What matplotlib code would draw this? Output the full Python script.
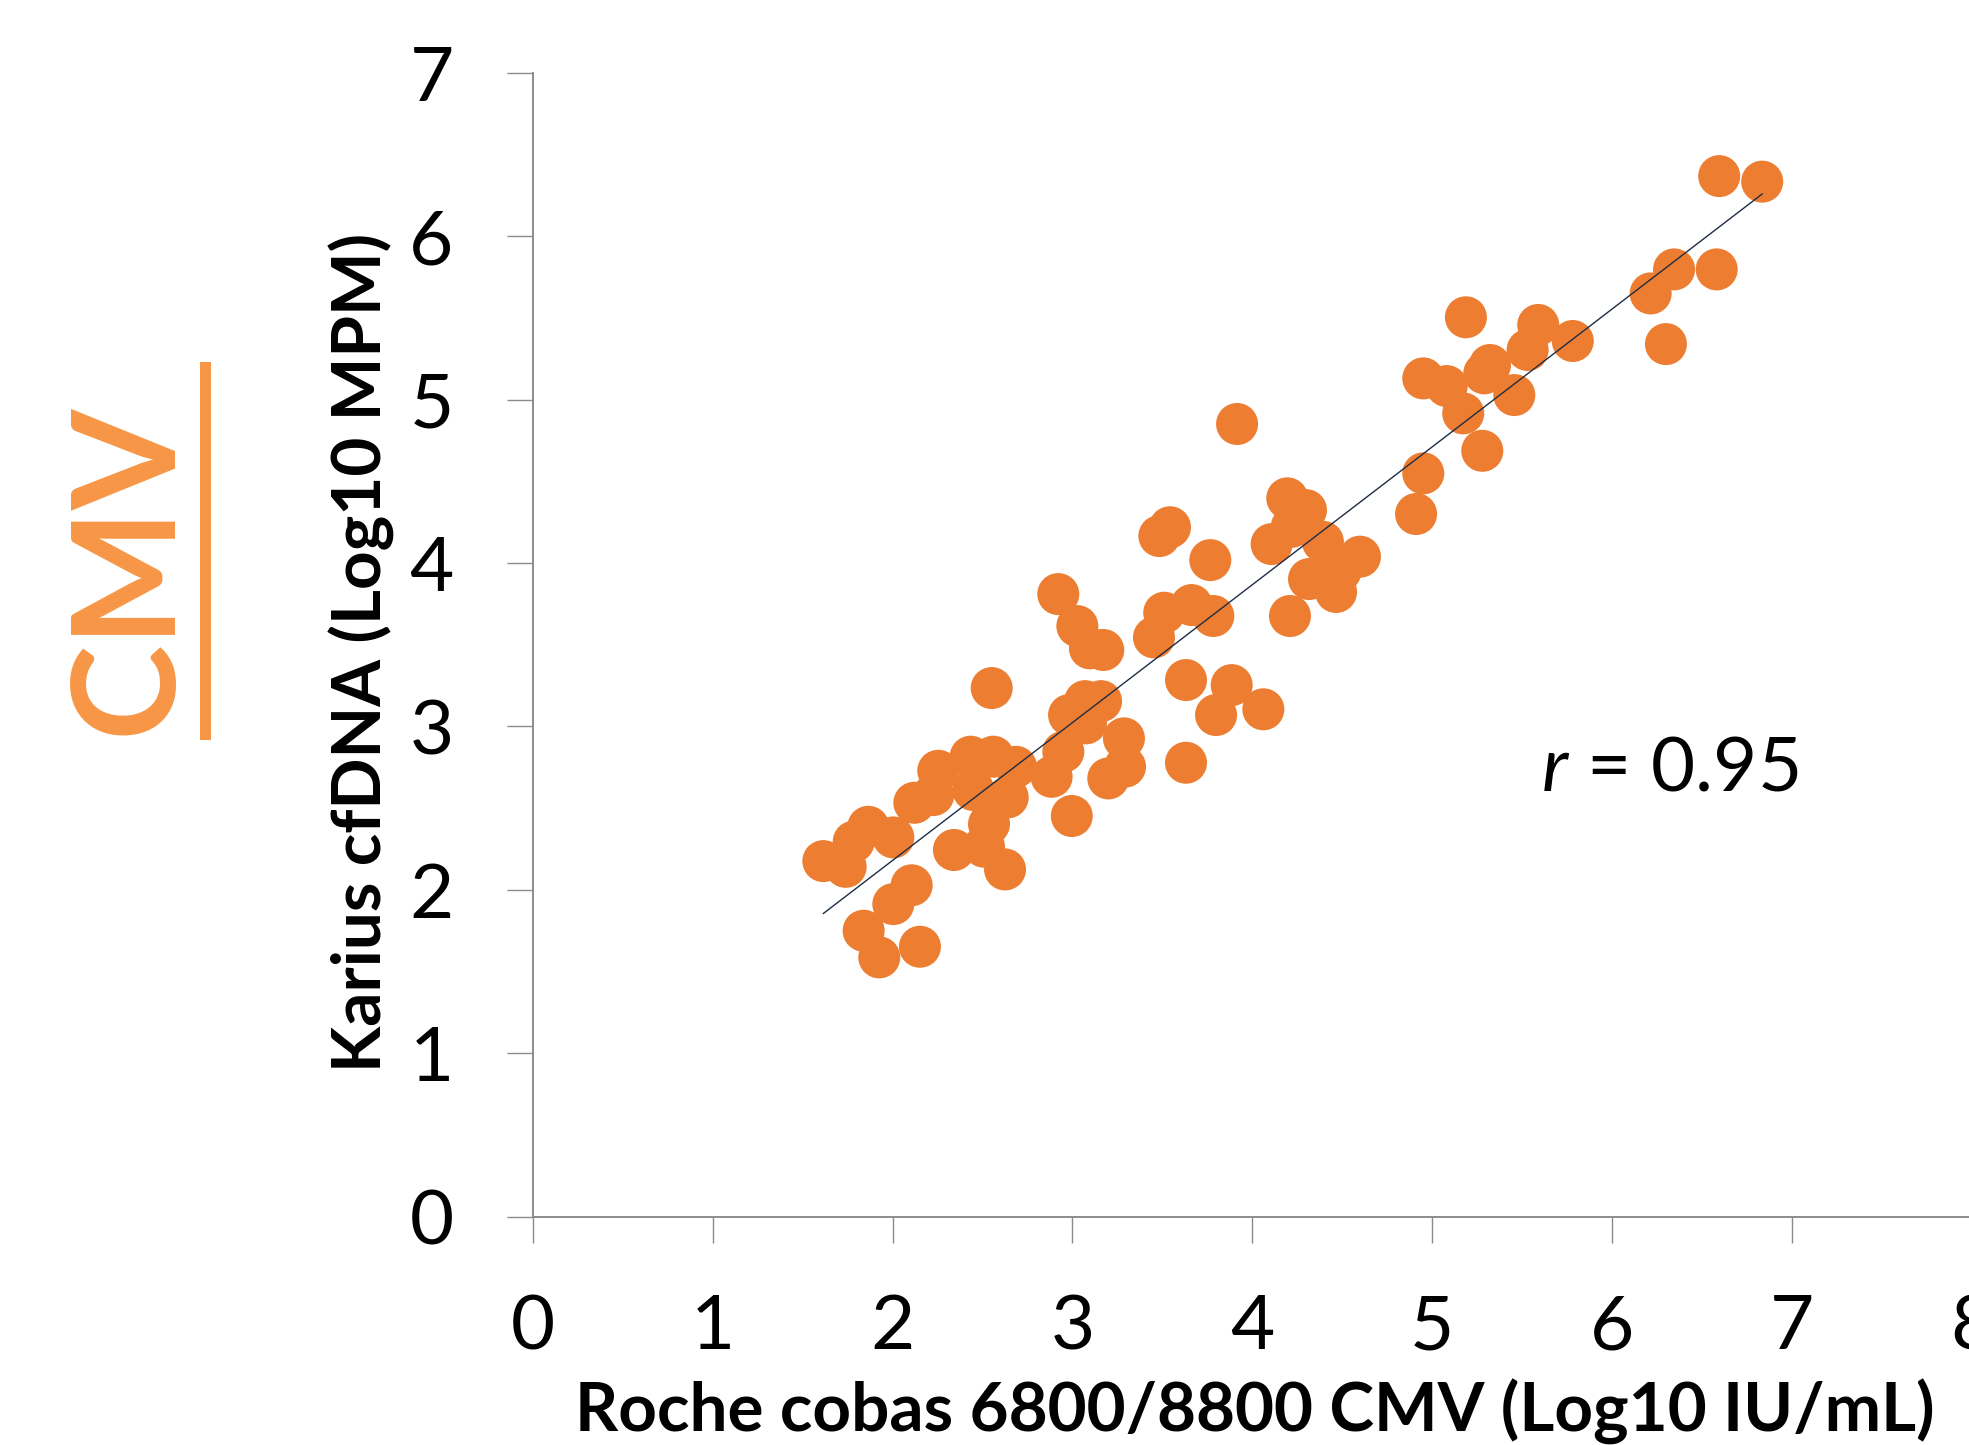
import numpy as np
import matplotlib
matplotlib.use("Agg")
import matplotlib.pyplot as plt
from matplotlib.patches import Rectangle

plt.rcParams['font.family'] = ['Lato', 'DejaVu Sans']
plt.rcParams['mathtext.fontset'] = 'custom'
plt.rcParams['mathtext.it'] = 'Lato:italic'
plt.rcParams['mathtext.rm'] = 'Lato'

# Roche cobas (log10 IU/mL) vs Karius cfDNA (log10 MPM)
roche = [1.615, 1.739, 1.784, 1.865, 2.004, 2.106, 2.004, 1.839, 1.926, 2.152,
         2.121, 2.226, 2.254, 2.434, 2.560, 2.686, 2.640, 2.449, 2.536, 2.341,
         2.508, 2.625, 2.551, 2.996, 2.949, 2.884, 2.981, 3.070, 3.159, 3.075,
         3.286, 3.292, 3.199, 2.921, 3.027, 3.097, 3.171, 3.453, 3.510, 3.662,
         3.783, 3.631, 3.631, 3.885, 3.798, 4.061, 3.483, 3.542, 3.766, 3.915,
         4.107, 4.194, 4.298, 4.219, 4.392, 4.598, 4.315, 4.465, 4.490, 4.209,
         4.910, 4.950, 4.950, 5.080, 5.172, 5.278, 5.289, 5.321, 5.456, 5.187,
         5.589, 5.530, 5.781, 6.214, 6.344, 6.581, 6.299, 6.595, 6.834]
karius = [2.176, 2.141, 2.295, 2.386, 2.321, 2.028, 1.913, 1.750, 1.587, 1.652,
          2.533, 2.580, 2.729, 2.815, 2.815, 2.753, 2.566, 2.611, 2.403, 2.244,
          2.264, 2.125, 3.235, 2.452, 2.845, 2.692, 3.070, 3.155, 3.155, 3.019,
          2.927, 2.754, 2.682, 3.810, 3.614, 3.478, 3.468, 3.545, 3.696, 3.743,
          3.676, 3.284, 2.778, 3.253, 3.070, 3.105, 4.165, 4.219, 4.018, 4.851,
          4.116, 4.396, 4.324, 4.222, 4.130, 4.039, 3.902, 3.823, 3.950, 3.676,
          4.300, 4.549, 5.130, 5.083, 4.916, 4.687, 5.161, 5.212, 5.028, 5.504,
          5.457, 5.304, 5.359, 5.650, 5.797, 5.797, 5.340, 6.368, 6.334]

x = np.array(roche)
y = np.array(karius)

fig = plt.figure(figsize=(19.69, 14.45), dpi=100)
ax = fig.add_axes([0.2706, 0.158, 0.7309, 0.7916])

ax.scatter(x, y, s=915, color='#ED7D31', edgecolors='none', zorder=2)

# linear trendline
k, b = np.polyfit(x, y, 1)
xl = np.array([x.min(), x.max()])
ax.plot(xl, k * xl + b, color='#1F2D44', lw=1.0, zorder=3)

ax.set_xlim(0, 8)
ax.set_ylim(0, 7)
ax.set_xticks(range(0, 9))
ax.set_yticks(range(0, 8))

for s in ['top', 'right']:
    ax.spines[s].set_visible(False)
for s in ['left', 'bottom']:
    ax.spines[s].set_color('#8C8C8C')
    ax.spines[s].set_linewidth(1.4)

ax.tick_params(axis='both', direction='out', length=19, width=1.0, color='#8C8C8C',
               labelsize=55, pad=36)
ax.tick_params(axis='y', pad=38)

ax.set_xlabel('Roche cobas 6800/8800 CMV (Log10 IU/mL)', fontsize=48.5, fontweight='bold',
              va='center')
ax.xaxis.set_label_coords(0.5015, -0.171)
ax.set_ylabel('Karius cfDNA (Log10 MPM)', fontsize=48.5, fontweight='bold', va='center')
ax.yaxis.set_label_coords(-0.1187, 0.4936)

ax.text(6.32, 2.74, '$r$ = 0.95', fontsize=55, ha='center', va='center')

fig.text(0.0655, 0.6062, 'CMV', fontsize=104, color='#F79646', rotation=90,
         fontweight='bold', ha='center', va='center')
fig.add_artist(Rectangle((200 / 1969, 1 - 740 / 1445), 11 / 1969, 378 / 1445,
                         transform=fig.transFigure, color='#F79646', lw=0))

fig.savefig('out.png', dpi=100)
